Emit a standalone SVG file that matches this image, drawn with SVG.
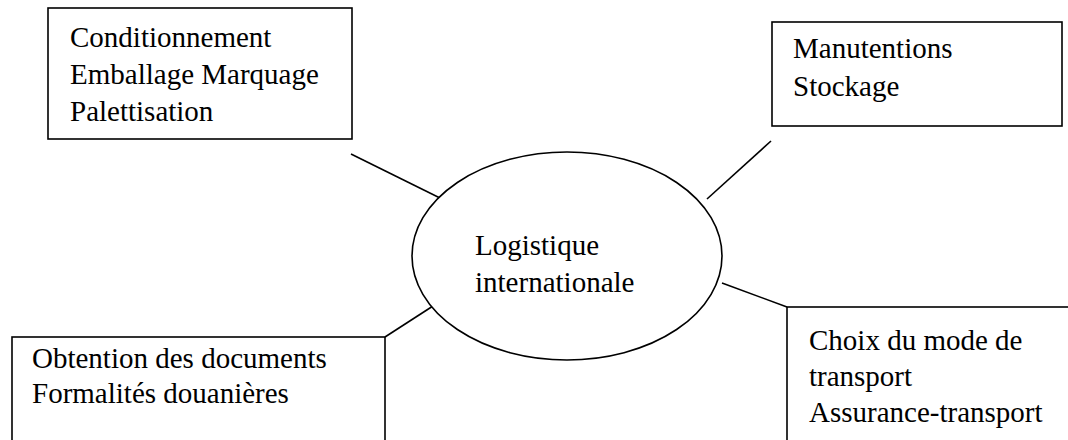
<svg xmlns="http://www.w3.org/2000/svg" width="1068" height="440" viewBox="0 0 1068 440">
  <style>
    .box { fill: #ffffff; stroke: #000000; stroke-width: 1.6; }
    .hub { fill: #ffffff; stroke: #000000; stroke-width: 1.6; }
    .link { stroke: #000000; stroke-width: 1.6; fill: none; }
    .label { font-size: 29px; fill: #000000; }
  </style>
  <rect width="1068" height="440" fill="#ffffff"/>

  <!-- connectors between the central ellipse and the four boxes -->
  <g id="connectors">
    <line class="link" x1="351" y1="154" x2="442" y2="199"/>
    <line class="link" x1="771" y1="141" x2="707" y2="199"/>
    <line class="link" x1="385" y1="337" x2="433" y2="306"/>
    <line class="link" x1="722" y1="283" x2="787" y2="307"/>
  </g>

  <g font-family="'Liberation Serif', Tinos, 'Times New Roman', 'DejaVu Serif', serif">
    <g id="hub">
      <ellipse class="hub" cx="567" cy="256" rx="155" ry="104"/>
      <text class="label" x="475" y="255">Logistique</text>
      <text class="label" x="475" y="292">internationale</text>
    </g>

    <g id="conditionnement">
      <rect class="box" x="48" y="8" width="304" height="131"/>
      <text class="label" x="70" y="47">Conditionnement</text>
      <text class="label" x="70" y="84">Emballage Marquage</text>
      <text class="label" x="70" y="121">Palettisation</text>
    </g>

    <g id="manutentions">
      <rect class="box" x="772" y="22" width="290" height="104"/>
      <text class="label" x="793" y="58">Manutentions</text>
      <text class="label" x="793" y="96">Stockage</text>
    </g>

    <g id="documents">
      <rect class="box" x="12" y="337" width="373" height="140"/>
      <text class="label" x="32" y="368">Obtention des documents</text>
      <text class="label" x="32" y="403">Formalités douanières</text>
    </g>

    <g id="transport">
      <rect class="box" x="787" y="307" width="320" height="170"/>
      <text class="label" x="809" y="350">Choix du mode de</text>
      <text class="label" x="809" y="386">transport</text>
      <text class="label" x="809" y="422">Assurance-transport</text>
    </g>
  </g>
</svg>
